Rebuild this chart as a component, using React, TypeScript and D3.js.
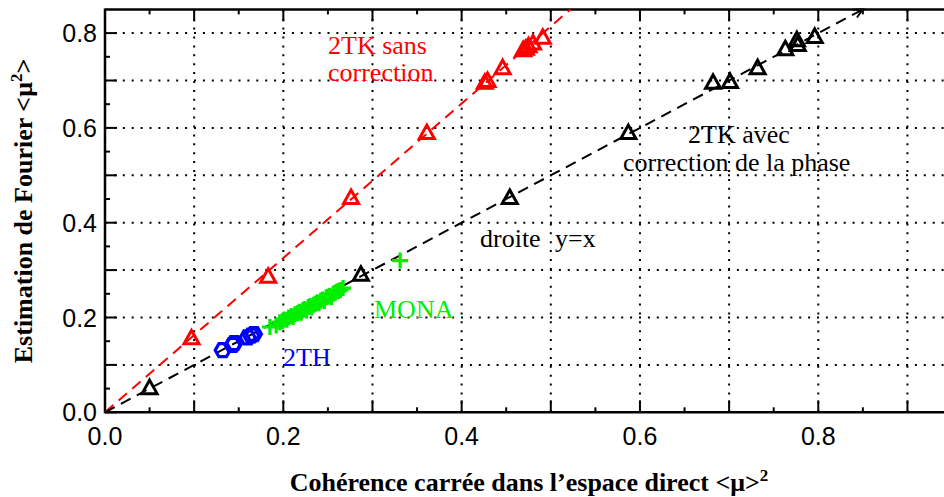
import React from 'react';
import { scaleLinear, range, line } from 'd3';

// 2TK sans correction (rouge)
const redTri: [number, number][] = [
  [0.097, 0.156], [0.183, 0.286], [0.276, 0.452], [0.361, 0.589],
  [0.426, 0.695], [0.429, 0.699], [0.446, 0.726], [0.469, 0.764],
  [0.472, 0.767], [0.475, 0.772], [0.480, 0.778], [0.491, 0.790],
];

// 2TK avec correction de la phase (noir)
const blackTri: [number, number][] = [
  [0.050, 0.051], [0.287, 0.290], [0.454, 0.452], [0.587, 0.589],
  [0.682, 0.695], [0.701, 0.697], [0.732, 0.726], [0.763, 0.766],
  [0.776, 0.785], [0.777, 0.775], [0.796, 0.792],
];

// 2TH (bleu)
const blueHex: [number, number][] = [
  [0.132, 0.131], [0.143, 0.142], [0.145, 0.146], [0.160, 0.158],
  [0.164, 0.162], [0.167, 0.165],
];

// MONA (vert)
const greenPlus: [number, number][] = [
  [0.185, 0.180], [0.192, 0.183], [0.196, 0.190], [0.199, 0.192], [0.201, 0.196],
  [0.204, 0.195], [0.206, 0.200], [0.209, 0.203], [0.211, 0.201], [0.213, 0.207],
  [0.216, 0.209], [0.218, 0.212], [0.220, 0.210], [0.222, 0.216], [0.224, 0.218],
  [0.226, 0.215], [0.228, 0.222], [0.230, 0.224], [0.232, 0.221], [0.234, 0.227],
  [0.236, 0.229], [0.238, 0.232], [0.240, 0.230], [0.242, 0.236], [0.244, 0.238],
  [0.246, 0.235], [0.248, 0.242], [0.250, 0.244], [0.252, 0.246], [0.254, 0.243],
  [0.256, 0.250], [0.258, 0.252], [0.260, 0.255], [0.262, 0.256], [0.264, 0.258],
  [0.267, 0.262], [0.331, 0.320],
];

const blackLine: [number, number][] = [[0, 0], [0.85, 0.85]];
const redLine: [number, number][] = [[0, 0], [0.522, 0.85]];

const xTickLabels = [0, 0.2, 0.4, 0.6, 0.8];
const yTickLabels = [0, 0.2, 0.4, 0.6, 0.8];

const W = 944;
const H = 497;
const left = 105;
const bottom = 412.3;

const serif = '"Liberation Serif", "Times New Roman", serif';
const sans = '"Liberation Sans", Arial, sans-serif';

export default function App() {
  const x = scaleLinear().domain([0, 0.941]).range([left, W]);
  const y = scaleLinear().domain([0, 0.85]).range([bottom, 9.4]);

  const path = line<[number, number]>().x(d => x(d[0])).y(d => y(d[1]));

  const gridX = range(1, 10).map(i => i / 10);
  const gridY = range(1, 9).map(i => i / 10);
  const xTicks = range(0, 19).map(i => i * 0.05).filter(v => v <= 0.941);
  const yTicks = range(0, 18).map(i => i * 0.05).filter(v => v <= 0.85);
  const isMajor = (v: number) => Math.abs(v * 10 - Math.round(v * 10)) < 1e-6;

  // petite flèche au bout de la droite y=x
  const tip = blackLine[1];
  const tx = x(tip[0]);
  const ty = y(tip[1]);
  const ang = Math.atan2(y(blackLine[1][1]) - y(blackLine[0][1]), x(blackLine[1][0]) - x(blackLine[0][0]));
  const barb = (da: number) => [tx - 10 * Math.cos(ang + da), ty - 10 * Math.sin(ang + da)];
  const b1 = barb(0.45);
  const b2 = barb(-0.45);

  const tri = 'M0,-8L7.5,5.5L-7.5,5.5Z';
  const hex = range(6).map(i => {
    const a = (Math.PI / 3) * i;
    return `${(7.5 * Math.cos(a)).toFixed(2)},${(7.5 * Math.sin(a)).toFixed(2)}`;
  }).join(' ');

  return (
    <svg width={W} height={H} style={{ position: 'absolute', left: 0, top: 0, background: '#fff' }}>
      {/* grille pointillée */}
      <g stroke="#000" strokeWidth={2} strokeDasharray="2,6.9">
        {gridX.map(v => (
          <line key={'gx' + v} x1={x(v)} x2={x(v)} y1={bottom} y2={y(0.85)} />
        ))}
        {gridY.map(v => (
          <line key={'gy' + v} x1={left} x2={W} y1={y(v)} y2={y(v)} />
        ))}
      </g>

      {/* axes */}
      <g stroke="#000" strokeWidth={2.5}>
        <line x1={left} x2={W} y1={bottom} y2={bottom} />
        <line x1={left} x2={W} y1={y(0.85)} y2={y(0.85)} />
        <line x1={left} x2={left} y1={bottom + 1} y2={y(0.85) - 1} />
      </g>
      <g stroke="#000" strokeWidth={2}>
        {xTicks.map(v => {
          const len = isMajor(v) ? 12 : 5;
          return (
            <g key={'xt' + v}>
              <line x1={x(v)} x2={x(v)} y1={bottom} y2={bottom - len} />
              <line x1={x(v)} x2={x(v)} y1={y(0.85)} y2={y(0.85) + len} />
            </g>
          );
        })}
        {yTicks.map(v => (
          <line key={'yt' + v} x1={left} x2={left + (isMajor(v) ? 12 : 5)} y1={y(v)} y2={y(v)} />
        ))}
      </g>

      {/* étiquettes des graduations */}
      <g fontFamily={sans} fontSize={25} fill="#000">
        {xTickLabels.map(v => (
          <text key={'xl' + v} x={x(v)} y={445} textAnchor="middle">{v.toFixed(1)}</text>
        ))}
        {yTickLabels.map(v => (
          <text key={'yl' + v} x={97} y={y(v) + 9} textAnchor="end">{v.toFixed(1)}</text>
        ))}
      </g>

      {/* droites */}
      <path d={path(redLine) || ''} fill="none" stroke="#ff0000" strokeWidth={2} strokeDasharray="11,7" />
      <path d={path(blackLine) || ''} fill="none" stroke="#000" strokeWidth={2} strokeDasharray="11,7" />
      <polyline points={`${b1[0]},${b1[1]} ${tx},${ty} ${b2[0]},${b2[1]}`} fill="none" stroke="#000" strokeWidth={2} />

      {/* points */}
      {redTri.map((d, i) => (
        <path key={'r' + i} d={tri} transform={`translate(${x(d[0])},${y(d[1])})`} fill="none" stroke="#ff0000" strokeWidth={3} />
      ))}
      {blackTri.map((d, i) => (
        <path key={'k' + i} d={tri} transform={`translate(${x(d[0])},${y(d[1])})`} fill="none" stroke="#000" strokeWidth={3} />
      ))}
      {blueHex.map((d, i) => (
        <polygon key={'b' + i} points={hex} transform={`translate(${x(d[0])},${y(d[1])})`} fill="none" stroke="#0000ff" strokeWidth={3.2} />
      ))}
      {greenPlus.map((d, i) => (
        <path key={'g' + i} d="M-8,0H8M0,-8V8" transform={`translate(${x(d[0])},${y(d[1])})`} fill="none" stroke="#00ee00" strokeWidth={3.2} />
      ))}

      {/* annotations */}
      <g fontFamily={serif} fontSize={26}>
        <text x={328} y={54} fill="#ff0000">2TK sans</text>
        <text x={328} y={81} fill="#ff0000">correction</text>
        <text x={688} y={143} fill="#000">2TK avec</text>
        <text x={623} y={171} fill="#000">correction de la phase</text>
        <text x={480} y={247} fill="#000">droite</text>
        <text x={555} y={247} fill="#000">y=x</text>
        <text x={374} y={318} fill="#00ee00">MONA</text>
        <text x={283} y={366} fill="#0000ff">2TH</text>
      </g>

      {/* titres des axes */}
      <text x={529} y={491} textAnchor="middle" fontFamily={serif} fontSize={26} fontWeight="bold">
        Cohérence carrée dans l’espace direct &lt;μ&gt;<tspan dy={-10} fontSize={17}>2</tspan>
      </text>
      <text transform="translate(32,211) rotate(-90)" textAnchor="middle" fontFamily={serif} fontSize={26} fontWeight="bold">
        Estimation de Fourier &lt;μ<tspan dy={-10} fontSize={17}>2</tspan><tspan dy={10}>&gt;</tspan>
      </text>
    </svg>
  );
}
